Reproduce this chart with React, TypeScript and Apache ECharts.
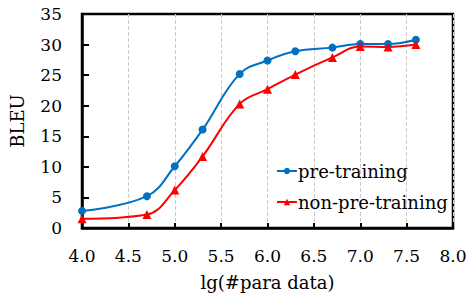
import React, { useEffect, useRef } from "react";
import * as echarts from "echarts";

const xValues = [4.0, 4.7, 5.0, 5.3, 5.7, 6.0, 6.3, 6.7, 7.0, 7.3, 7.6];
const preTraining = [2.8, 5.2, 10.1, 16.1, 25.2, 27.4, 28.9, 29.5, 30.1, 30.1, 30.8];
const nonPreTraining = [1.5, 2.2, 6.2, 11.7, 20.3, 22.7, 25.1, 27.9, 29.7, 29.6, 30.0];
const seriesNames = ["pre-training", "non-pre-training"];

const FONT = "DejaVu Serif";

export default function App() {
  const ref = useRef<HTMLDivElement>(null);
  useEffect(() => {
    document.body.style.margin = "0";
    const chart = echarts.init(ref.current!, null, { renderer: "svg" });
    const pairs = (ys: number[]) => xValues.map((x, i) => [x, ys[i]]);
    chart.setOption({
      animation: false,
      backgroundColor: "#fff",
      grid: {
        left: 80,
        right: 18,
        top: 14,
        bottom: 68,
        show: true,
        borderColor: "#000",
        borderWidth: 2.5,
        backgroundColor: "transparent",
      },
      legend: {
        orient: "vertical",
        left: 276,
        top: 162,
        padding: 0,
        itemWidth: 20,
        itemHeight: 8,
        itemGap: 13,
        textStyle: { fontFamily: FONT, fontSize: 18, color: "#000", padding: [0, 0, 0, -4] },
        data: seriesNames,
      },
      xAxis: {
        type: "value",
        min: 4,
        max: 8,
        interval: 0.5,
        name: "lg(#para data)",
        nameLocation: "middle",
        nameGap: 45,
        nameTextStyle: { fontFamily: FONT, fontSize: 18, color: "#000" },
        axisLine: { show: true, lineStyle: { color: "#000", width: 2.5 } },
        axisTick: { show: true, inside: true, length: 5, lineStyle: { color: "#000", width: 2 } },
        axisLabel: {
          fontFamily: FONT,
          fontSize: 17,
          color: "#000",
          margin: 19,
          formatter: (v: number) => v.toFixed(1),
        },
        splitLine: { show: true, lineStyle: { color: "#ccc", type: "dashed", width: 1 } },
      },
      yAxis: {
        type: "value",
        min: 0,
        max: 35,
        interval: 5,
        name: "BLEU",
        nameLocation: "middle",
        nameGap: 56,
        nameRotate: 90,
        nameTextStyle: { fontFamily: FONT, fontSize: 18, color: "#000" },
        axisLine: { show: true, lineStyle: { color: "#000", width: 2.5 } },
        axisTick: { show: true, inside: true, length: 7, lineStyle: { color: "#000", width: 2 } },
        axisLabel: { fontFamily: FONT, fontSize: 17, color: "#000", margin: 20 },
        splitLine: { show: false },
      },
      series: [
        {
          name: seriesNames[0],
          type: "line",
          smooth: 0.4,
          data: pairs(preTraining),
          symbol: "circle",
          symbolSize: 8,
          itemStyle: { color: "#0070C0" },
          lineStyle: { color: "#0070C0", width: 2 },
        },
        {
          name: seriesNames[1],
          type: "line",
          smooth: 0.4,
          data: pairs(nonPreTraining),
          symbol: "triangle",
          symbolSize: 9,
          itemStyle: { color: "#FF0000" },
          lineStyle: { color: "#FF0000", width: 2 },
        },
      ],
    });
    return () => chart.dispose();
  }, []);
  return <div ref={ref} style={{ width: 471, height: 296 }} />;
}
